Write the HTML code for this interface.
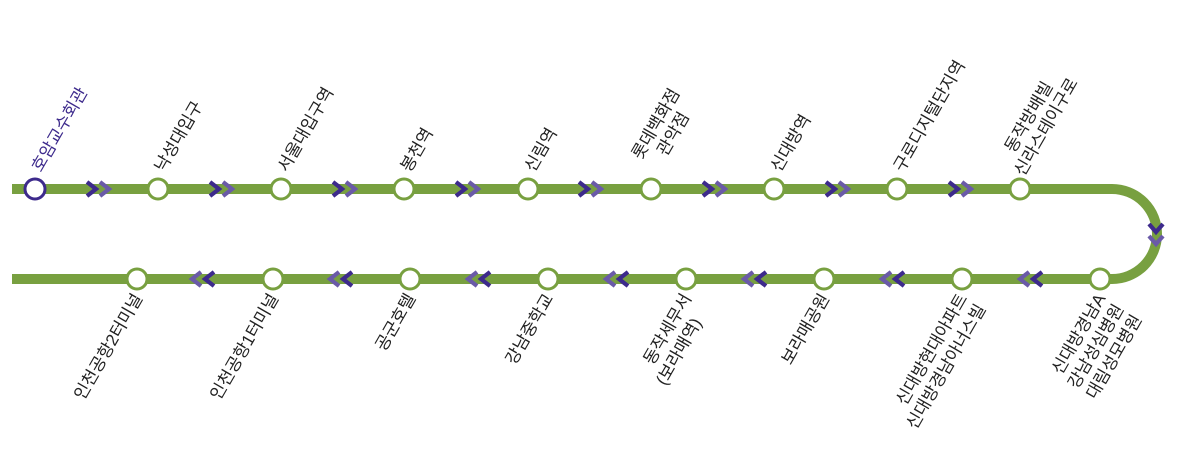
<!DOCTYPE html>
<html><head><meta charset="utf-8"><style>
html,body{margin:0;padding:0;background:#fff;}
svg{display:block;}
text{font-family:"Liberation Sans","Noto Sans CJK KR",sans-serif;font-size:17px;fill:#222;}
</style></head><body>
<svg width="1179" height="469" viewBox="0 0 1179 469" xmlns="http://www.w3.org/2000/svg">
<path d="M12 189 H1112 A45 45 0 0 1 1112 279 H12" fill="none" stroke="#78a040" stroke-width="10"/>
<g fill="none" stroke-width="4.2" stroke-linejoin="miter">
<g id="ct">
<path d="M87 182 L96 189 L87 196" stroke="#3d2a8c"/><path d="M100 182 L109 189 L100 196" stroke="#6a5aa8"/>
</g>
<use href="#ct" x="123"/><use href="#ct" x="246"/><use href="#ct" x="369"/><use href="#ct" x="492"/><use href="#ct" x="616"/><use href="#ct" x="739"/><use href="#ct" x="862"/>
<path d="M1149 224 L1156 232 L1163 224" stroke="#3d2a8c"/><path d="M1149 236 L1156 244 L1163 236" stroke="#6a5aa8"/>
<g id="cb">
<path d="M1042 272 L1033 279 L1042 286" stroke="#3d2a8c"/><path d="M1029 272 L1020 279 L1029 286" stroke="#6a5aa8"/>
</g>
<use href="#cb" x="-138"/><use href="#cb" x="-276"/><use href="#cb" x="-414"/><use href="#cb" x="-552"/><use href="#cb" x="-690"/><use href="#cb" x="-828"/>
</g>
<g fill="#fff" stroke-width="3">
<circle cx="35" cy="189" r="10" stroke="#3d2a8c"/>
<g stroke="#78a040">
<circle cx="158" cy="189" r="10"/><circle cx="281" cy="189" r="10"/><circle cx="404" cy="189" r="10"/><circle cx="528" cy="189" r="10"/><circle cx="651" cy="189" r="10"/><circle cx="774" cy="189" r="10"/><circle cx="897" cy="189" r="10"/><circle cx="1020" cy="189" r="10"/>
<circle cx="1100" cy="279" r="10"/><circle cx="962" cy="279" r="10"/><circle cx="824" cy="279" r="10"/><circle cx="686" cy="279" r="10"/><circle cx="548" cy="279" r="10"/><circle cx="410" cy="279" r="10"/><circle cx="273" cy="279" r="10"/><circle cx="137" cy="279" r="10"/>
</g></g>
<text transform="translate(41,173) rotate(-60)" style="fill:#3d2a8c">호암교수회관</text>
<text transform="translate(164,173) rotate(-60)">낙성대입구</text>
<text transform="translate(287,173) rotate(-60)">서울대입구역</text>
<text transform="translate(410,173) rotate(-60)">봉천역</text>
<text transform="translate(534,173) rotate(-60)">신림역</text>
<text transform="translate(657,173) rotate(-60)" text-anchor="middle"><tspan x="42" y="-20">롯데백화점</tspan><tspan x="42" y="0">관악점</tspan></text>
<text transform="translate(780,173) rotate(-60)">신대방역</text>
<text transform="translate(903,173) rotate(-60)">구로디지털단지역</text>
<text transform="translate(1026,173) rotate(-60)" text-anchor="middle"><tspan x="50" y="-20">동작방배빌</tspan><tspan x="50" y="0">신라스테이구로</tspan></text>
<text transform="translate(1106,298) rotate(-60)" text-anchor="end"><tspan x="0" y="0">신대방경남A</tspan><tspan x="0" y="21">강남성심병원</tspan><tspan x="0" y="42">대림성모병원</tspan></text>
<text transform="translate(968,298) rotate(-60)" text-anchor="end"><tspan x="0" y="0">신대방현대아파트</tspan><tspan x="0" y="21">신대방경남아너스빌</tspan></text>
<text transform="translate(830,298) rotate(-60)" text-anchor="end">보라매공원</text>
<text transform="translate(692,298) rotate(-60)" text-anchor="end"><tspan x="0" y="0">동작세무서</tspan><tspan x="-16" y="21">(보라매역)</tspan></text>
<text transform="translate(554,298) rotate(-60)" text-anchor="end">강남중학교</text>
<text transform="translate(416,298) rotate(-60)" text-anchor="end">공군호텔</text>
<text transform="translate(279,298) rotate(-60)" text-anchor="end">인천공항1터미널</text>
<text transform="translate(143,298) rotate(-60)" text-anchor="end">인천공항2터미널</text>
</svg>
</body></html>
